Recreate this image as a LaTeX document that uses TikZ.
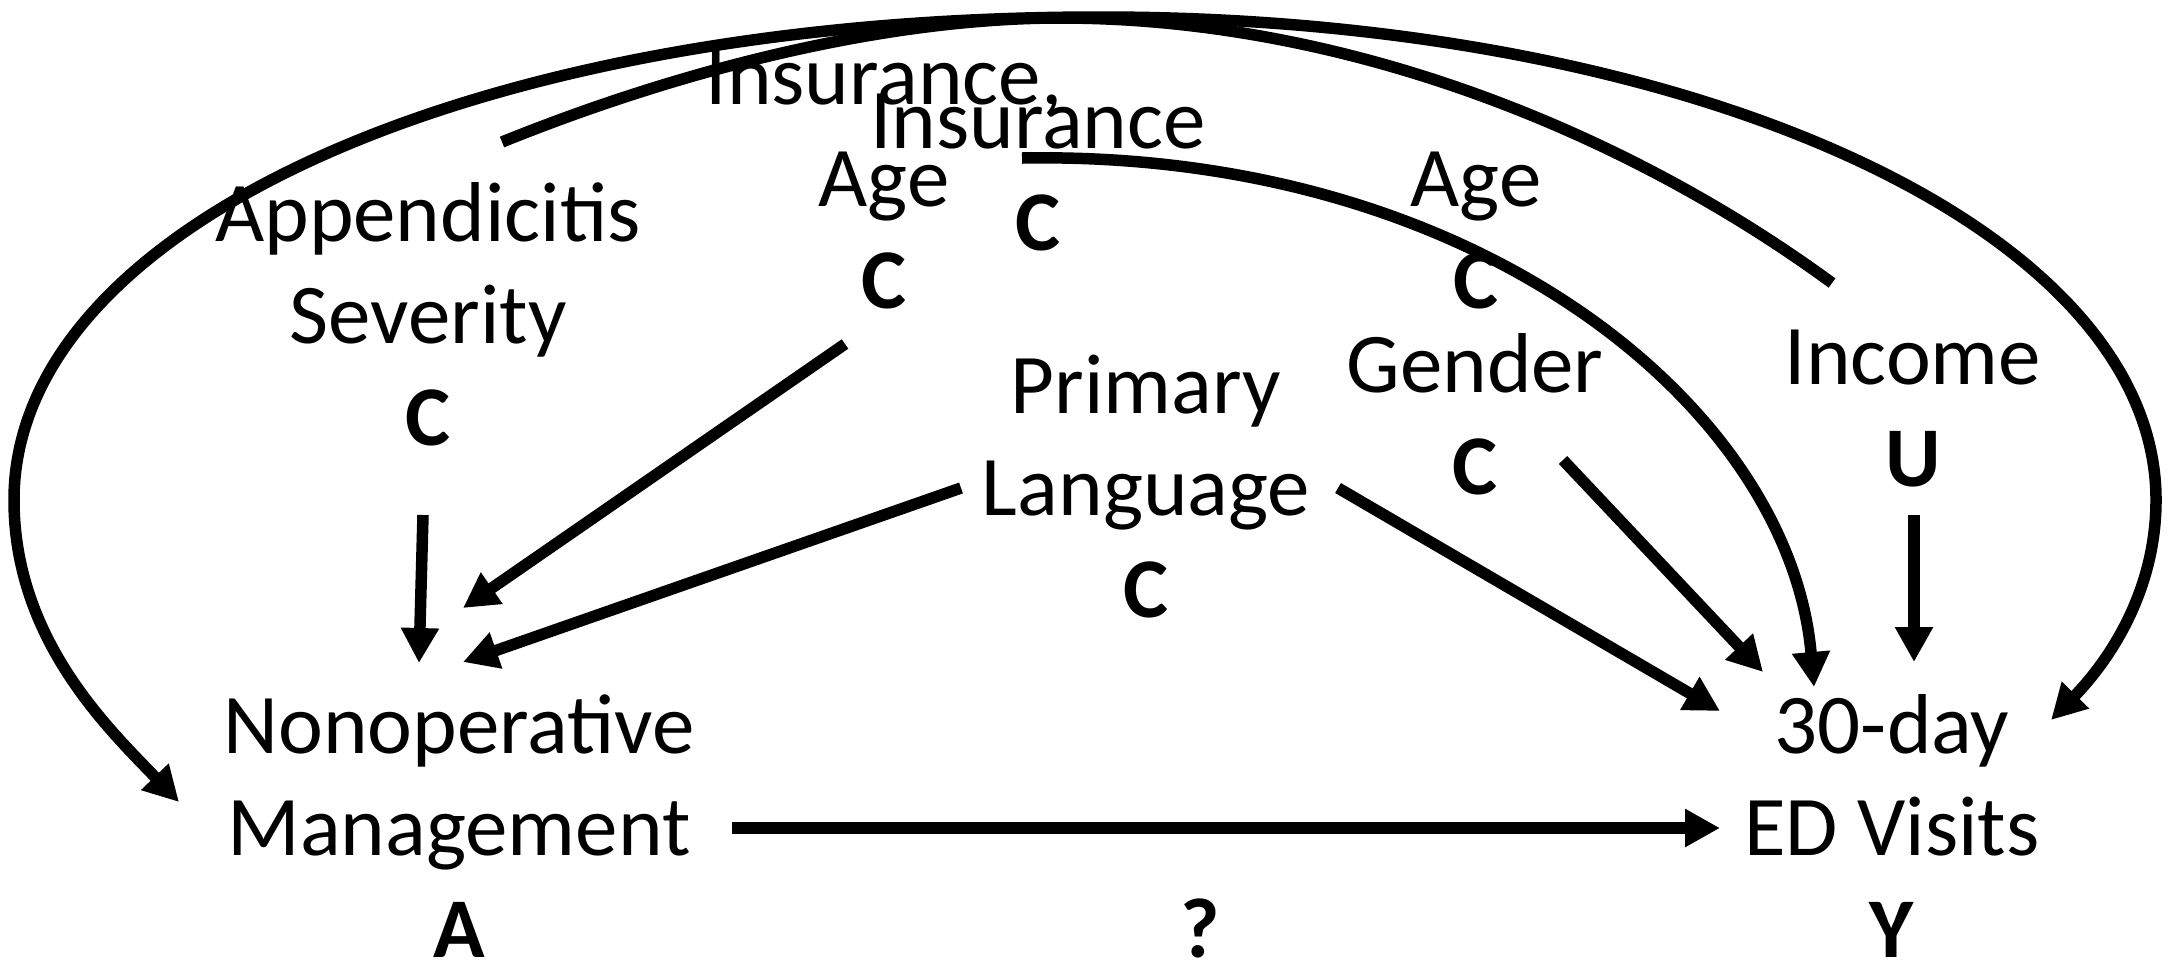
\documentclass[tikz,border=0pt]{standalone}
\usepackage{fontspec}
\setmainfont{Carlito}
\usetikzlibrary{arrows.meta}
\begin{document}
\begin{tikzpicture}[x=0.5pt,y=-0.5pt,
  lbl/.style={align=center, anchor=base, inner sep=0pt, font=\fontsize{42.5}{51}\selectfont},
  arr/.style={line width=5.75pt, -{Triangle[length=17.5pt,width=18pt]}},
  link/.style={line width=5.75pt}]
\useasboundingbox (0,0) rectangle (2177,965);

% variable nodes (anchor = baseline of the last line)
\node[lbl] (sev)  at (428,445)  {Appendicitis\\Severity\\\textbf{C}};
\node[lbl] (insA) at (884,308)  {Insurance,\\Age\\\textbf{C}};
\node[lbl] (ins)  at (1038,250) {Insurance\\\textbf{C}};
\node[lbl] (age)  at (1476,308) {Age\\\textbf{C}};
\node[lbl] (gen)  at (1475,494) {Gender\\\textbf{C}};
\node[lbl] (pl)   at (1146,617) {Primary\\Language\\\textbf{C}};
\node[lbl] (inc)  at (1913,486) {Income\\\textbf{U}};
\node[lbl] (A)    at (459,957)  {Nonoperative\\Management\\\textbf{A}};
\node[lbl] (Y)    at (1892,957) {30-day\\ED Visits\\\textbf{Y}};
\node[lbl] (q)    at (1200,957) {\textbf{?}};

% connector end points
\coordinate (sev-out) at (423,515);
\coordinate (sev-top) at (502,142);
\coordinate (insA-out) at (845,344);
\coordinate (insA-top) at (1100,17);
\coordinate (ins-out) at (1022,158);
\coordinate (pl-outA) at (961,488);
\coordinate (pl-outY) at (1338,488);
\coordinate (gen-out) at (1563,460);
\coordinate (inc-out) at (1914,515);
\coordinate (inc-top) at (1832,283);
\coordinate (A-out) at (732,828);
\coordinate (A-in1) at (419,663);
\coordinate (A-in2) at (463,608);
\coordinate (A-in3) at (463,662);
\coordinate (A-in4) at (179,802);
\coordinate (Y-in1) at (1720,828);
\coordinate (Y-in2) at (1720,711);
\coordinate (Y-in3) at (1763,672);
\coordinate (Y-in4) at (1814,687);
\coordinate (Y-in5) at (1914,662);
\coordinate (Y-in6) at (2051,720);

% straight arrows
\draw[arr] (sev-out) -- (A-in1);
\draw[arr] (insA-out) -- (A-in2);
\draw[arr] (pl-outA) -- (A-in3);
\draw[arr] (pl-outY) -- (Y-in2);
\draw[arr] (gen-out) -- (Y-in3);
\draw[arr] (inc-out) -- (Y-in5);
\draw[arr] (A-out) -- (Y-in1);

% curved connectors
\draw[arr] (ins-out) .. controls (1480,150) and (1790,410) .. (Y-in4);
\draw[link] (sev-top) .. controls (700,62) and (900,18) .. (1060,18)
            .. controls (1350,18) and (1630,135) .. (inc-top);
\draw[arr] (insA-top) .. controls (470,17) and (14,227) .. (14,500)
            .. controls (14,640) and (110,730) .. (A-in4);
\draw[arr] (insA-top) .. controls (1690,17) and (2156,228) .. (2156,500)
            .. controls (2156,600) and (2100,670) .. (Y-in6);
\end{tikzpicture}
\end{document}
